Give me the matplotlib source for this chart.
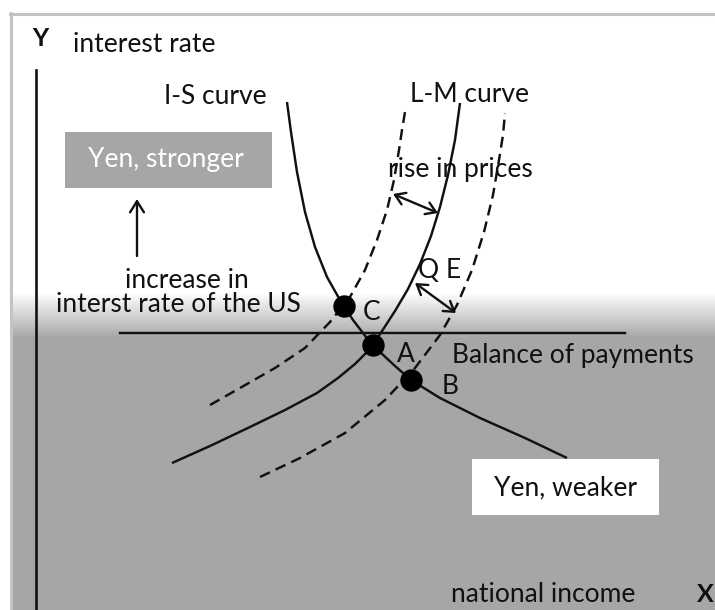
import numpy as np
import matplotlib
matplotlib.use("Agg")
import matplotlib.pyplot as plt
from matplotlib.patches import Rectangle, FancyArrowPatch

# ---- curve data (diagram coordinates, y grows downward) ----
is_x = [287, 291, 297, 305, 315, 327, 340, 353, 366, 380, 395, 411, 440, 480, 525, 567]
is_y = [102, 132, 172, 212, 247, 277, 300, 320, 337, 352, 366, 380, 398, 418, 438, 458]

lm_x = [172, 210, 250, 285, 317, 338, 355, 367, 376, 384, 395, 408, 420, 431, 440, 448, 455, 460]
lm_y = [463, 446, 427, 410, 393, 378, 364, 352, 340, 328, 311, 289, 264, 236, 207, 175, 140, 103]

lm_up_x = [210, 240, 275, 305, 330, 350, 365, 377, 387, 394, 399, 402, 405]
lm_up_y = [405, 388, 368, 348, 322, 297, 270, 240, 210, 180, 150, 130, 112]

lm_dn_x = [260, 300, 345, 385, 415, 440, 457, 472, 484, 493, 499, 503, 505]
lm_dn_y = [477, 458, 433, 400, 368, 335, 305, 270, 232, 195, 160, 135, 113]

bp_x = [120, 625]
bp_y = [333, 333]

points_x = [344, 373, 411]
points_y = [306, 345, 380]
point_names = ["C", "A", "B"]
point_label_x = [372, 406, 450]
point_label_y = [312, 355, 386]

W, H = 715, 610
fig = plt.figure(figsize=(W / 100, H / 100), dpi=100)
ax = fig.add_axes([0, 0, 1, 1])
ax.set_xlim(0, W)
ax.set_ylim(H, 0)
ax.axis("off")

FONT = "Lato"
FS = 19
INK = "#111111"
LW = 1.75

# background: white top, gradient to gray
gray = np.array([166, 166, 166]) / 255
top_g, bot_g = 292, 338
ys = np.arange(H)
t = np.clip((ys - top_g) / (bot_g - top_g), 0, 1)
col = (1 - t)[:, None] * np.ones(3) + t[:, None] * gray
img = np.repeat(col[:, None, :], W, axis=1)
img[:, :10, :] = 1.0
img[:13, :, :] = 1.0
ax.imshow(img, extent=(0, W, H, 0), aspect="auto", zorder=0, interpolation="bilinear")

# frame lines
ax.plot([10, W], [13.5, 13.5], color="#c4c4c4", lw=2.2, zorder=1)
ax.plot([10.5, 10.5], [13, H], color="#c4c4c4", lw=2.2, zorder=1)

# y axis line
ax.plot([36, 36], [70, H], color=INK, lw=1.9, zorder=2)

# curves
ax.plot(is_x, is_y, color=INK, lw=LW, zorder=3, solid_capstyle="butt")
ax.plot(lm_x, lm_y, color=INK, lw=LW, zorder=3, solid_capstyle="butt")
ax.plot(lm_up_x, lm_up_y, color=INK, lw=LW, ls=(0, (4.5, 2.6)), zorder=3)
ax.plot(lm_dn_x, lm_dn_y, color=INK, lw=LW, ls=(0, (4.5, 2.6)), zorder=3)
ax.plot(bp_x, bp_y, color=INK, lw=LW, zorder=3)

# equilibrium points
ax.scatter(points_x, points_y, s=260, color="black", zorder=5, linewidths=0)
for n, lx, ly in zip(point_names, point_label_x, point_label_y):
    ax.text(lx, ly, n, fontsize=FS, family=FONT, color=INK, ha="center", va="center", zorder=6)

def txt(x, y, s, ha="left", **kw):
    kw.setdefault("color", INK)
    ax.text(x, y, s, fontsize=FS, family=FONT, ha=ha, va="center", **kw)

# axis labels
ax.text(40, 38, "Y", fontsize=18, family=FONT, weight="bold", color=INK, ha="center", va="center")
txt(73, 44, "interest rate")
ax.text(705, 594, "X", fontsize=18, family=FONT, weight="bold", color=INK, ha="center", va="center")
txt(635, 594, "national income", ha="right")

# curve labels
txt(164, 96, "I-S curve")
txt(410, 94, "L-M curve")
txt(388, 170, "rise in prices")
txt(428, 270, "Q", ha="center")
txt(453, 270, "E", ha="center")
txt(452, 356, "Balance of payments")
txt(187, 281, "increase in", ha="center")
txt(178, 305, "interst rate of the US", ha="center")

# boxes
ax.add_patch(Rectangle((65, 132), 207, 56, facecolor="#a6a6a6", edgecolor="none", zorder=2))
ax.text(166, 159, "Yen, stronger", fontsize=FS, family=FONT, color="white", ha="center", va="center", zorder=3)
ax.add_patch(Rectangle((472, 459), 187, 56, facecolor="white", edgecolor="none", zorder=4))
ax.text(565, 488, "Yen, weaker", fontsize=FS, family=FONT, color=INK, ha="center", va="center", zorder=5)

# arrows
ax.add_patch(FancyArrowPatch((137, 256), (137, 199), arrowstyle="->,head_length=8,head_width=5",
                             color=INK, lw=1.7, zorder=4, shrinkA=0, shrinkB=0))
for (x0, y0, x1, y1) in [(393, 194, 438, 213), (415, 283, 456, 313)]:
    ax.add_patch(FancyArrowPatch((x0, y0), (x1, y1), arrowstyle="<->,head_length=7,head_width=4.5",
                                 color=INK, lw=1.7, zorder=4, shrinkA=0, shrinkB=0))

fig.savefig("out.png", dpi=100)
